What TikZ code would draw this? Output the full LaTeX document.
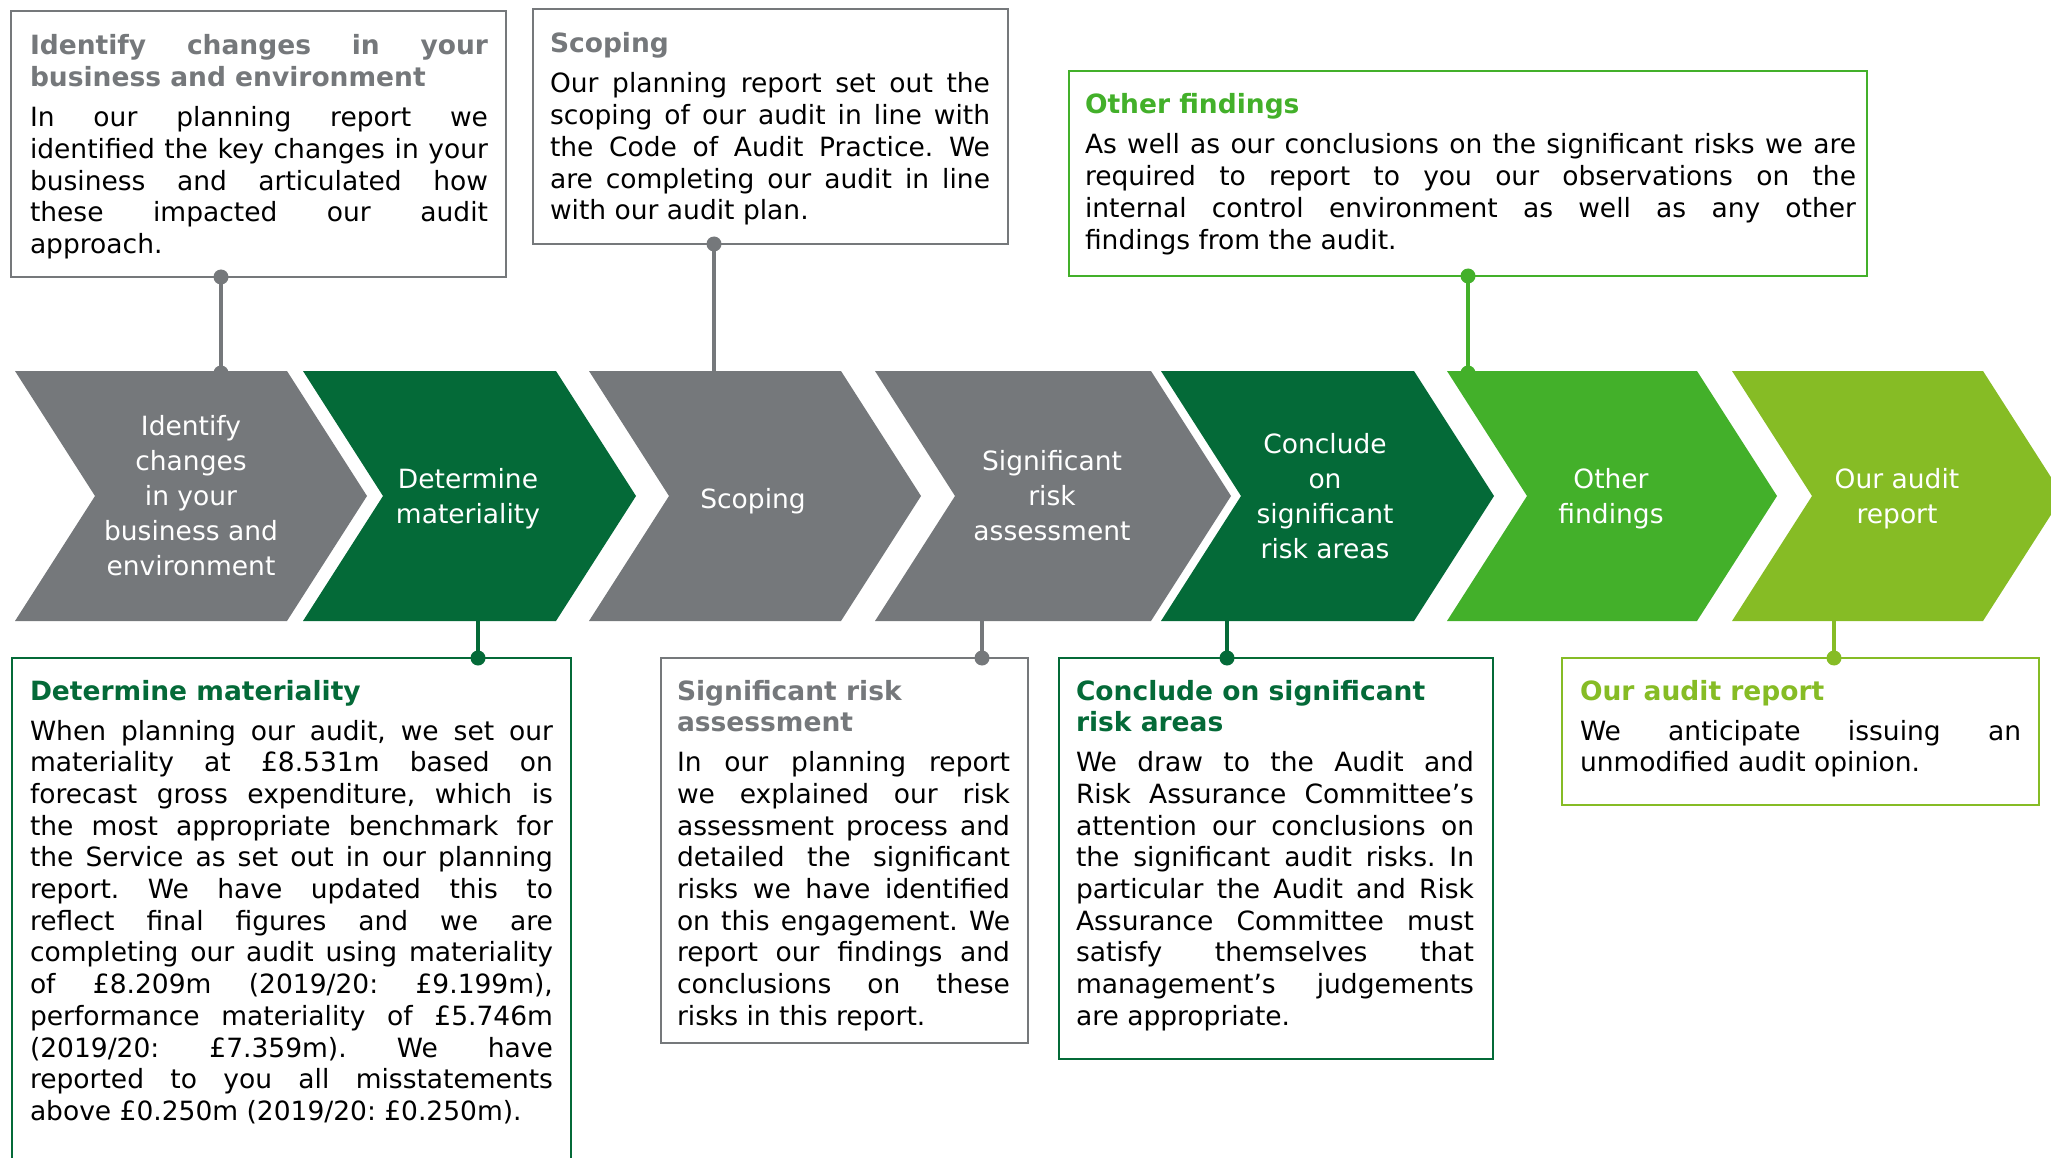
\documentclass[tikz,border=0pt]{standalone}
\usepackage{fontspec}
\setmainfont{DejaVu Sans}
\definecolor{cgray}{HTML}{75787B}
\definecolor{cdark}{HTML}{046A38}
\definecolor{cgreen}{HTML}{43B02A}
\definecolor{clime}{HTML}{86BC25}
\newcommand\bodyfont{\fontsize{26.5pt}{31.7pt}\selectfont}
\newcommand\chevfont{\fontsize{26.5pt}{35pt}\selectfont}
\newcommand\hd[2]{{\leavevmode\color{#1}\bfseries #2\par}\vspace{8.3pt}}
\newcommand\txtbox[2]{\parbox[t]{#1}{\frenchspacing\tolerance=10000\hbadness=10000\hyphenpenalty=10000\relax #2}}
% #1 left x, #2 top width, #3 colour
\newcommand\chevshape[3]{\fill[#3] (#1,371) -- ++(#2,0) -- ++(80,125) -- ++(-80,125) -- ++(-#2,0) -- ++(80,-125) -- cycle;}
\begin{document}
\begin{tikzpicture}[x=1pt,y=-1pt,
  frame/.style={draw=#1, line width=2.6pt, fill=white, inner sep=0pt, outer sep=0pt, anchor=north west},
  txt/.style={inner sep=0pt, outer sep=0pt, anchor=base west, font=\bodyfont, text=black},
  ctext/.style={text=white, align=center, font=\chevfont, inner sep=0pt,
    execute at begin node=\strut, execute at end node=\strut},
  link/.style={draw=#1, line width=3.2pt},
  dot/.style={fill=#1}]
\useasboundingbox (0,0) rectangle (2051,1158);
\clip (0,0) rectangle (2051,1158);

% ---------- text boxes ----------
\node[frame=cgray, minimum width=495pt, minimum height=266pt] (b1) at (11,11) {};
\node[frame=cgray, minimum width=475pt, minimum height=235pt] (b2) at (533,9) {};
\node[frame=cgreen, minimum width=798pt, minimum height=205pt] (b3) at (1069,71) {};
\node[frame=cdark, minimum width=559pt, minimum height=520pt] (b4) at (12,658) {};
\node[frame=cgray, minimum width=367pt, minimum height=385pt] (b5) at (661,658) {};
\node[frame=cdark, minimum width=434pt, minimum height=401pt] (b6) at (1059,658) {};
\node[frame=clime, minimum width=477pt, minimum height=147pt] (b7) at (1562,658) {};

\node[txt] (t1) at (30,55) {\txtbox{458pt}{\hd{cgray}{Identify changes in your\linebreak business and environment}In our planning report we\linebreak identified the key changes in your\linebreak business and articulated how\linebreak these impacted our audit\linebreak approach.}};
\node[txt] (t2) at (550,53) {\txtbox{440pt}{\hd{cgray}{Scoping}Our planning report set out the\linebreak scoping of our audit in line with\linebreak the Code of Audit Practice. We\linebreak are completing our audit in line\linebreak with our audit plan.}};
\node[txt] (t3) at (1085,114) {\txtbox{771pt}{\hd{cgreen}{Other findings}As well as our conclusions on the significant risks we are\linebreak required to report to you our observations on the\linebreak internal control environment as well as any other\linebreak findings from the audit.}};
\node[txt] (t4) at (30,700) {\txtbox{523pt}{\hd{cdark}{Determine materiality}When planning our audit, we set our\linebreak materiality at £8.531m based on\linebreak forecast gross expenditure, which is\linebreak the most appropriate benchmark for\linebreak the Service as set out in our planning\linebreak report. We have updated this to\linebreak reflect final figures and we are\linebreak completing our audit using materiality\linebreak of £8.209m (2019/20: £9.199m),\linebreak performance materiality of £5.746m\linebreak (2019/20: £7.359m). We have\linebreak reported to you all misstatements\linebreak above £0.250m (2019/20: £0.250m).}};
\node[txt] (t5) at (677,700) {\txtbox{333pt}{\hd{cgray}{Significant risk\newline assessment}In our planning report\linebreak we explained our risk\linebreak assessment process and\linebreak detailed the significant\linebreak risks we have identified\linebreak on this engagement. We\linebreak report our findings and\linebreak conclusions on these\linebreak risks in this report.}};
\node[txt] (t6) at (1076,700) {\txtbox{398pt}{\hd{cdark}{Conclude on significant\newline risk areas}We draw to the Audit and\linebreak Risk Assurance Committee’s\linebreak attention our conclusions on\linebreak the significant audit risks. In\linebreak particular the Audit and Risk\linebreak Assurance Committee must\linebreak satisfy themselves that\linebreak management’s judgements\linebreak are appropriate.}};
\node[txt] (t7) at (1580,700) {\txtbox{441pt}{\hd{clime}{Our audit report}We anticipate issuing an\linebreak unmodified audit opinion.}};

% ---------- connection points on the chevrons ----------
\coordinate (c1top) at (221,371);
\coordinate (c3top) at (714,371);
\coordinate (c6top) at (1468,371);
\coordinate (c2bot) at (478,621);
\coordinate (c4bot) at (982,621);
\coordinate (c5bot) at (1227,621);
\coordinate (c7bot) at (1834,621);

% ---------- connectors ----------
\draw[link=cgray] (b1.south -| c1top) -- (c1top);
\draw[link=cgray] (b2.south -| c3top) -- (c3top);
\draw[link=cgreen] (b3.south -| c6top) -- (c6top);
\draw[link=cdark] (c2bot) -- (b4.north -| c2bot);
\draw[link=cgray] (c4bot) -- (b5.north -| c4bot);
\draw[link=cdark] (c5bot) -- (b6.north -| c5bot);
\draw[link=clime] (c7bot) -- (b7.north -| c7bot);
\fill[dot=cgray] ([yshift=-2pt]c1top) circle (7.5pt);
\fill[dot=cgreen] ([yshift=-2pt]c6top) circle (7.5pt);

% ---------- chevrons ----------
\chevshape{15}{272}{cgray}
\chevshape{303}{253}{cdark}
\chevshape{589}{252}{cgray}
\chevshape{875}{276}{cgray}
\chevshape{1161}{253}{cdark}
\chevshape{1447}{250}{cgreen}
\chevshape{1732}{251}{clime}

\node[ctext] (c1) at (191,501) {Identify\\changes\\in your\\business and\\environment};
\node[ctext] (c2) at (468,501) {Determine\\materiality};
\node[ctext] (c3) at (753,501) {Scoping};
\node[ctext] (c4) at (1052,501) {Significant\\risk\\assessment};
\node[ctext] (c5) at (1325,501) {Conclude\\on\\significant\\risk areas};
\node[ctext] (c6) at (1611,501) {Other\\findings};
\node[ctext] (c7) at (1897,501) {Our audit\\report};

% ---------- dots on the boxes ----------
\fill[dot=cgray] (b1.south -| c1top) circle (7.5pt);
\fill[dot=cgray] (b2.south -| c3top) circle (7.5pt);
\fill[dot=cgreen] (b3.south -| c6top) circle (7.5pt);
\fill[dot=cdark] (b4.north -| c2bot) circle (7.5pt);
\fill[dot=cgray] (b5.north -| c4bot) circle (7.5pt);
\fill[dot=cdark] (b6.north -| c5bot) circle (7.5pt);
\fill[dot=clime] (b7.north -| c7bot) circle (7.5pt);
\end{tikzpicture}
\end{document}
